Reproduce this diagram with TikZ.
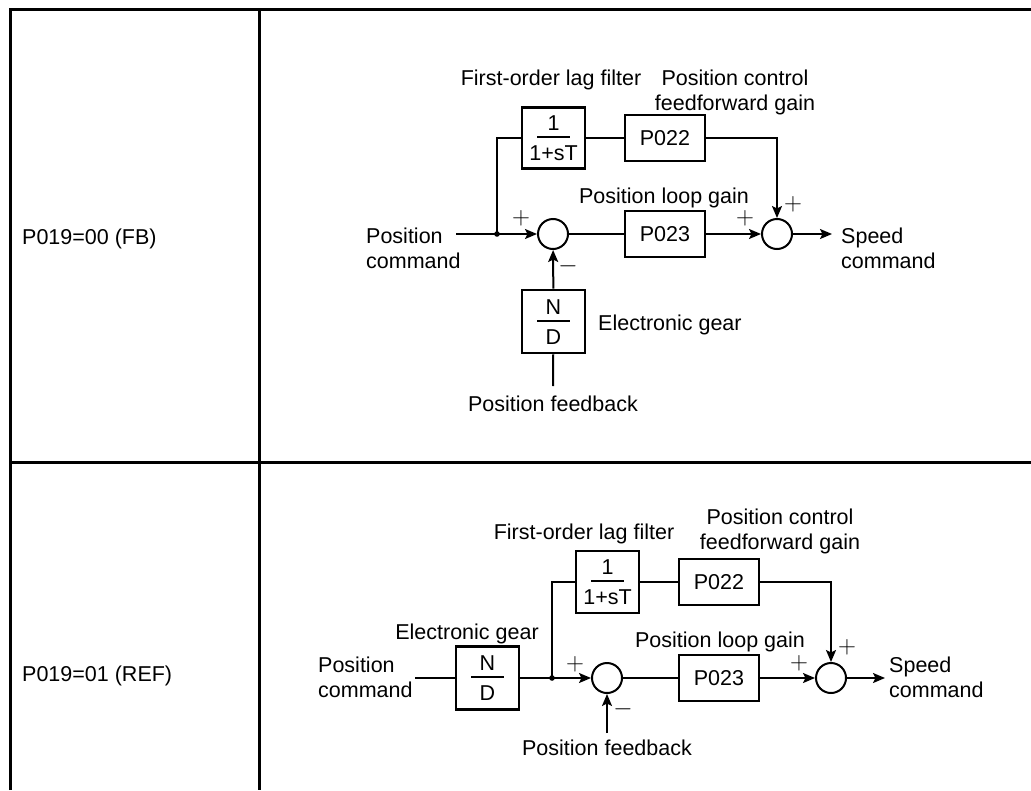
\documentclass[tikz,border=0pt]{standalone}
\usepackage[no-math]{fontspec}
\setmainfont{Liberation Sans}
\usetikzlibrary{arrows.meta}
\newcommand{\frc}[2]{\vbox{\offinterlineskip\halign{\hfil##\hfil\cr\rule{0pt}{15.5pt}#1\cr\noalign{\vskip5.5pt}\rule{33pt}{1.8pt}\cr\noalign{\vskip7pt}\rule{0pt}{15.5pt}#2\cr}}}
\tikzset{
    every node/.style={inner sep=0pt, font=\fontsize{21.5}{25}\selectfont},
    blk/.style={draw, rectangle, line width=2.6pt},
    sum/.style={draw, circle, minimum size=30pt, line width=2pt},
    sgn/.style={font=\fontsize{27}{27}\selectfont},
    conn/.style={line width=2pt},
    arr/.style={conn, -{Stealth[length=12pt,width=10pt,inset=2.5pt]}},
    tbl/.style={line width=3pt}
}

\begin{document}
\begin{tikzpicture}[x=1pt, y=-1pt]
    \useasboundingbox (0,0) rectangle (1031,790);
    \draw[tbl] (10,790) -- (10,9) -- (1031,9);
    \draw[tbl] (259,9) -- (259,790);
    \draw[tbl] (10,462) -- (1031,462);

    \node (mode1) [anchor=base west] at (22,244) {P019=00 (FB)};
    \node (lag1) [blk, minimum width=63, minimum height=61] at (553.5,138) {\frc{1}{1+sT}};
    \node (ff1) [blk, minimum width=80, minimum height=46] at (665,138) {P022};
    \node (s11) [sum] at (553,234) {};
    \node (kp1) [blk, minimum width=80, minimum height=46] at (665,234) {P023};
    \node (s12) [sum] at (777,234) {};
    \node (gear1) [blk, minimum width=63, minimum height=63] at (553.5,321.5) {\frc{N}{D}};
    \coordinate (in1) at (456,234);
    \coordinate (j1) at (497,234);
    \coordinate (out1) at (832,234);
    \coordinate (fb1) at (553,386);

    \node (laglbl1) [anchor=base] at (551,85) {First-order lag filter};
    \node (fflbl1) [anchor=base, align=center] at (735,110) {Position control\\feedforward gain};
    \node (kplbl1) [anchor=base] at (664,203) {Position loop gain};
    \node (gearlbl1) [anchor=base west] at (598,330) {Electronic gear};
    \node (fblbl1) [anchor=base] at (553,411) {Position feedback};
    \node (cmd1) [anchor=base west, align=left] at (366,268) {Position\\command};
    \node (spd1) [anchor=base west, align=left] at (841,268) {Speed\\command};

    \node (p11) [sgn] at (521,218) {$+$};
    \node (m11) [sgn] at (568,266) {$-$};
    \node (p12) [sgn] at (745,218) {$+$};
    \node (p13) [sgn] at (793,204) {$+$};

    \draw[conn] (in1) -- (j1);
    \draw[arr] (j1) -- (s11);
    \draw[conn] (j1) |- (lag1);
    \draw[conn] (lag1) -- (ff1);
    \draw[arr] (ff1) -| (s12);
    \draw[conn] (s11) -- (kp1);
    \draw[arr] (kp1) -- (s12);
    \draw[arr] (s12) -- (out1);
    \draw[conn] (fb1) -- (gear1);
    \draw[arr] (gear1) -- (s11);
    \fill (j1) circle (2.8);

    \node (mode2) [anchor=base west] at (22,681) {P019=01 (REF)};
    \node (gear2) [blk, minimum width=63, minimum height=63] at (487.5,678) {\frc{N}{D}};
    \node (lag2) [blk, minimum width=63, minimum height=62] at (607.5,582) {\frc{1}{1+sT}};
    \node (ff2) [blk, minimum width=80, minimum height=46] at (719,582) {P022};
    \node (s21) [sum] at (607,678) {};
    \node (kp2) [blk, minimum width=80, minimum height=46] at (719,678) {P023};
    \node (s22) [sum] at (831,678) {};
    \coordinate (in2) at (415,678);
    \coordinate (j2) at (552,678);
    \coordinate (out2) at (885,678);
    \coordinate (fb2) at (607,733);

    \node (laglbl2) [anchor=base] at (584,539) {First-order lag filter};
    \node (fflbl2) [anchor=base, align=center] at (780,549) {Position control\\feedforward gain};
    \node (kplbl2) [anchor=base] at (720,647) {Position loop gain};
    \node (gearlbl2) [anchor=base] at (467,639) {Electronic gear};
    \node (fblbl2) [anchor=base] at (607,755) {Position feedback};
    \node (cmd2) [anchor=base west, align=left] at (318,697) {Position\\command};
    \node (spd2) [anchor=base west, align=left] at (889,697) {Speed\\command};

    \node (p21) [sgn] at (575,664) {$+$};
    \node (m21) [sgn] at (623,709) {$-$};
    \node (p22) [sgn] at (799,663) {$+$};
    \node (p23) [sgn] at (847,647) {$+$};

    \draw[conn] (in2) -- (gear2);
    \draw[conn] (gear2) -- (j2);
    \draw[arr] (j2) -- (s21);
    \draw[conn] (j2) |- (lag2);
    \draw[conn] (lag2) -- (ff2);
    \draw[arr] (ff2) -| (s22);
    \draw[conn] (s21) -- (kp2);
    \draw[arr] (kp2) -- (s22);
    \draw[arr] (s22) -- (out2);
    \draw[arr] (fb2) -- (s21);
    \fill (j2) circle (2.8);
\end{tikzpicture}
\end{document}
